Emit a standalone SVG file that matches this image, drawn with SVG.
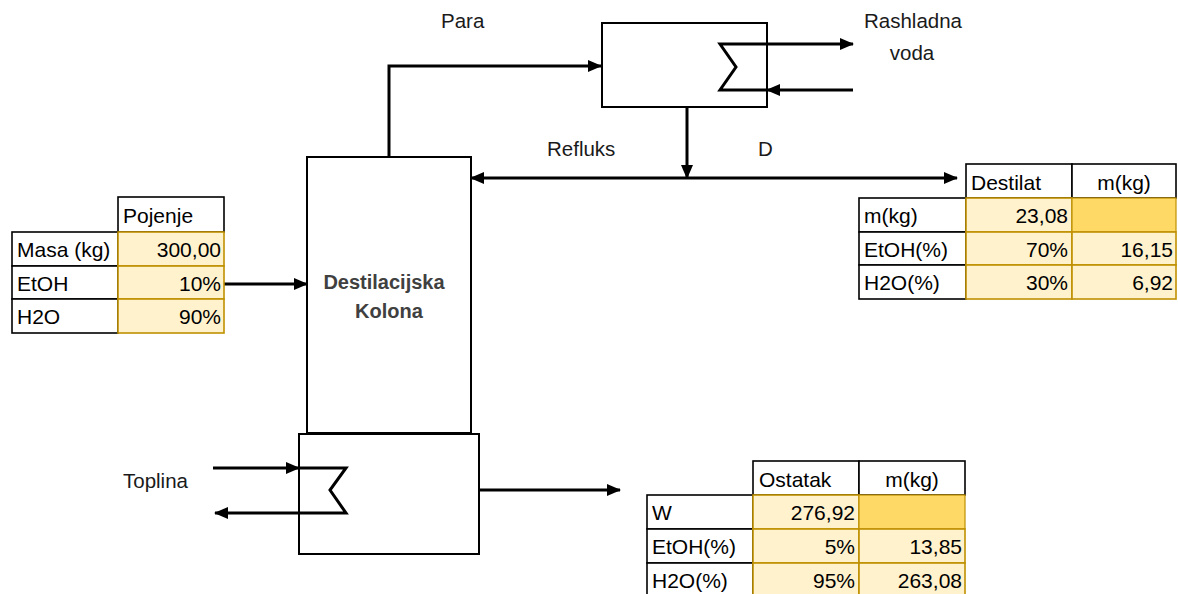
<svg xmlns="http://www.w3.org/2000/svg" width="1178" height="594" viewBox="0 0 1178 594">
<style>
  text { font-family: "Liberation Sans", Arial, sans-serif; font-size: 21px; fill: #000; }
  .lbl { font-size: 20.5px; fill: #1a1a1a; }
  .title { font-weight: bold; font-size: 20px; fill: #404040; }
  .box { fill: #fff; stroke: #000; stroke-width: 2; }
  .conn { fill: none; stroke: #000; stroke-width: 3; }
  .hdr { fill: #fff; stroke: #000; stroke-width: 1.6; }
  .key { fill: #fff; stroke: #000; stroke-width: 1.6; }
  .val { fill: #FFF2CC; stroke: #BF9000; stroke-width: 1.6; }
  .hi { fill: #FFD966; stroke: #BF9000; stroke-width: 1.2; }
  .r { text-anchor: end; }
  .c { text-anchor: middle; }
</style>
<defs>
  <marker id="ah" markerUnits="userSpaceOnUse" markerWidth="14" markerHeight="12" refX="13" refY="6" orient="auto-start-reverse" viewBox="0 0 14 12">
    <path d="M0,0 L14,6 L0,12 z" fill="#000"/>
  </marker>
</defs>
<rect width="1178" height="594" fill="#fff"/>

<g id="connectors">
  <!-- Para: column top to condenser -->
  <polyline class="conn" points="389,157 389,66 601,66" marker-end="url(#ah)"/>
  <!-- condenser outlet down -->
  <line class="conn" x1="687" y1="107" x2="687" y2="178" marker-end="url(#ah)"/>
  <!-- reflux / distillate line -->
  <line class="conn" x1="471" y1="178" x2="957" y2="178" marker-start="url(#ah)" marker-end="url(#ah)"/>
  <!-- feed -->
  <line class="conn" x1="224" y1="284" x2="307" y2="284" marker-end="url(#ah)"/>
  <!-- bottoms -->
  <line class="conn" x1="479" y1="490" x2="620" y2="490" marker-end="url(#ah)"/>
  <!-- condenser coil -->
  <polyline class="conn" points="767,90 720,90 736,67 720,44 853,44" marker-end="url(#ah)"/>
  <line class="conn" x1="853" y1="90" x2="767" y2="90" marker-end="url(#ah)"/>
  <!-- reboiler coil -->
  <line class="conn" x1="213" y1="468" x2="299" y2="468" marker-end="url(#ah)"/>
  <polyline class="conn" points="299,468 346,468 330,490 346,513 215,513" marker-end="url(#ah)"/>
</g>

<g id="column">
  <rect class="box" x="307" y="157" width="164" height="276"/>
  <text class="title c" x="384" y="289">Destilacijska</text>
  <text class="title c" x="389" y="318">Kolona</text>
</g>

<g id="reboiler">
  <rect class="box" x="299" y="434" width="180" height="120" fill="none" style="fill:none"/>
</g>

<g id="condenser">
  <rect class="box" x="602" y="23" width="165" height="84" style="fill:none"/>
</g>

<g id="labels">
  <text class="lbl" x="441" y="28">Para</text>
  <text class="lbl c" x="913" y="28">Rashladna</text>
  <text class="lbl c" x="912" y="60">voda</text>
  <text class="lbl" x="547" y="156">Refluks</text>
  <text class="lbl" x="758" y="156">D</text>
  <text class="lbl" x="123" y="488">Toplina</text>
</g>

<g id="feed-table">
  <rect class="hdr" x="118" y="197" width="106" height="35"/>
  <text x="123" y="223">Pojenje</text>
  <rect class="key" x="12" y="232" width="106" height="34"/>
  <rect class="key" x="12" y="266" width="106" height="33"/>
  <rect class="key" x="12" y="299" width="106" height="34"/>
  <rect class="val" x="118" y="232" width="106" height="34"/>
  <rect class="val" x="118" y="266" width="106" height="33"/>
  <rect class="val" x="118" y="299" width="106" height="34"/>
  <text x="17" y="257">Masa (kg)</text>
  <text x="17" y="291">EtOH</text>
  <text x="17" y="324">H2O</text>
  <text class="r" x="221" y="257">300,00</text>
  <text class="r" x="221" y="291">10%</text>
  <text class="r" x="221" y="324">90%</text>
</g>

<g id="distillate-table">
  <rect class="hdr" x="966" y="164" width="106" height="34"/>
  <rect class="hdr" x="1072" y="164" width="104" height="34"/>
  <text x="971" y="190">Destilat</text>
  <text class="c" x="1124" y="190">m(kg)</text>
  <rect class="key" x="859" y="198" width="107" height="34"/>
  <rect class="key" x="859" y="232" width="107" height="33"/>
  <rect class="key" x="859" y="265" width="107" height="34"/>
  <rect class="val" x="966" y="198" width="106" height="34"/>
  <rect class="val" x="966" y="232" width="106" height="33"/>
  <rect class="val" x="966" y="265" width="106" height="34"/>
  <rect class="hi" x="1072" y="198" width="104" height="34"/>
  <rect class="val" x="1072" y="232" width="104" height="33"/>
  <rect class="val" x="1072" y="265" width="104" height="34"/>
  <text x="864" y="223">m(kg)</text>
  <text x="864" y="257">EtOH(%)</text>
  <text x="864" y="290">H2O(%)</text>
  <text class="r" x="1068" y="223">23,08</text>
  <text class="r" x="1068" y="257">70%</text>
  <text class="r" x="1068" y="290">30%</text>
  <text class="r" x="1173" y="257">16,15</text>
  <text class="r" x="1173" y="290">6,92</text>
</g>

<g id="residue-table">
  <rect class="hdr" x="753" y="461" width="106" height="34"/>
  <rect class="hdr" x="859" y="461" width="106" height="34"/>
  <text x="759" y="487">Ostatak</text>
  <text class="c" x="912" y="487">m(kg)</text>
  <rect class="key" x="647" y="495" width="106" height="34"/>
  <rect class="key" x="647" y="529" width="106" height="34"/>
  <rect class="key" x="647" y="563" width="106" height="34"/>
  <rect class="val" x="753" y="495" width="106" height="34"/>
  <rect class="val" x="753" y="529" width="106" height="34"/>
  <rect class="val" x="753" y="563" width="106" height="34"/>
  <rect class="hi" x="859" y="495" width="106" height="34"/>
  <rect class="val" x="859" y="529" width="106" height="34"/>
  <rect class="val" x="859" y="563" width="106" height="34"/>
  <text x="652" y="520">W</text>
  <text x="652" y="554">EtOH(%)</text>
  <text x="652" y="588">H2O(%)</text>
  <text class="r" x="855" y="520">276,92</text>
  <text class="r" x="855" y="554">5%</text>
  <text class="r" x="855" y="588">95%</text>
  <text class="r" x="962" y="554">13,85</text>
  <text class="r" x="962" y="588">263,08</text>
</g>
</svg>
